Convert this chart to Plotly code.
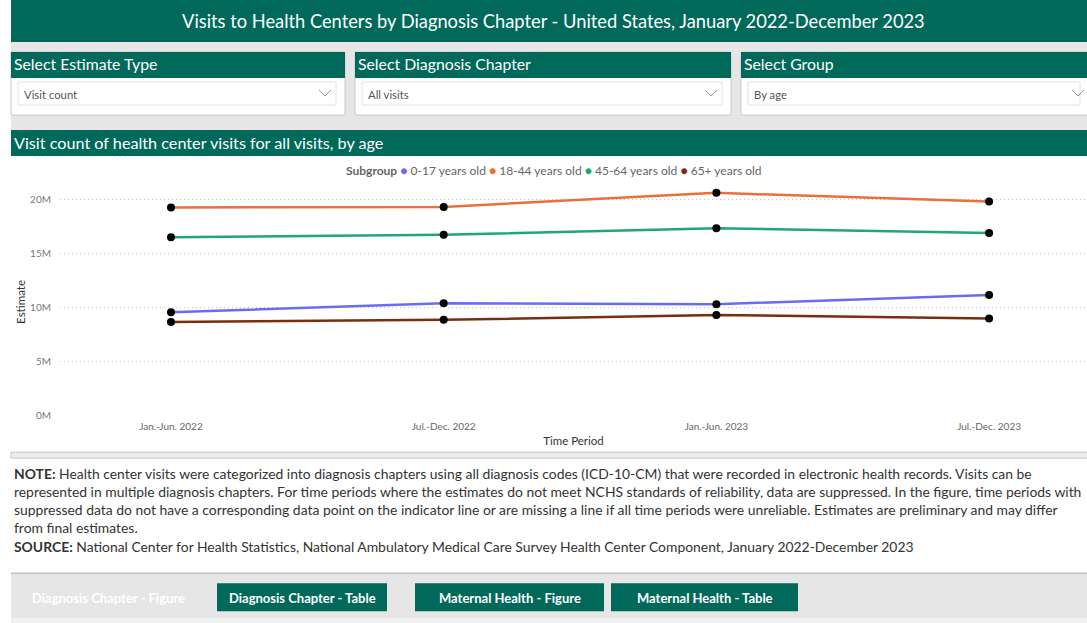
import plotly.graph_objects as go

W, H = 1087, 623
# The photographed page comes out slightly squeezed vertically; stretch layout
# coordinates by this factor so that positions land where the reference has them.
K = 0.99

periods = ["Jan.-Jun. 2022", "Jul.-Dec. 2022", "Jan.-Jun. 2023", "Jul.-Dec. 2023"]
age_0_17 = [9.60e6, 10.43e6, 10.34e6, 11.18e6]
age_18_44 = [19.29e6, 19.35e6, 20.65e6, 19.84e6]
age_45_64 = [16.55e6, 16.76e6, 17.38e6, 16.94e6]
age_65_plus = [8.70e6, 8.89e6, 9.35e6, 9.01e6]

series_names = ["0-17 years old", "18-44 years old", "45-64 years old", "65+ years old"]
series_colors = ["#6B6BF2", "#E8703A", "#1FA874", "#7A2E10"]
series_values = [age_0_17, age_18_44, age_45_64, age_65_plus]

ytick_vals = [0, 5e6, 10e6, 15e6, 20e6]
ytick_text = ["0M", "5M", "10M", "15M", "20M"]

GREEN = "#00695A"
GRAY = "#E6E6E6"
FONT = "Segoe UI, Lato, sans-serif"


def px(x):
    return x / W


def py(y):
    return 1 - (y / K) / H


shapes = []
annotations = []


def rect(x0, y0, x1, y1, fill, line=None, lw=1):
    shapes.append(dict(type="rect", xref="paper", yref="paper",
                       x0=px(x0), x1=px(x1), y0=py(y1), y1=py(y0),
                       fillcolor=fill, line=dict(color=line or fill, width=lw if line else 0),
                       layer="below"))


def text(x, y, s, size, color, xanchor="left", bold=False, yanchor="middle"):
    annotations.append(dict(xref="paper", yref="paper", x=px(x), y=py(y),
                            text=(f"<b>{s}</b>" if bold else s), showarrow=False,
                            xanchor=xanchor, yanchor=yanchor,
                            font=dict(family=FONT, size=size, color=color)))


def chevron(cx, cy):
    p = f"M {px(cx-6)},{py(cy-3)} L {px(cx)},{py(cy+3)} L {px(cx+6)},{py(cy-3)}"
    shapes.append(dict(type="path", xref="paper", yref="paper", path=p,
                       line=dict(color="#9A9A9A", width=1)))


# Title bar
rect(11, -2, W + 2, 42, GREEN)
text(553, 21, "Visits to Health Centers by Diagnosis Chapter - United States, January 2022-December 2023", 18.3, "white", "center")

# Gray filter band
rect(11, 42, W + 2, 130, GRAY)

panels = [(11, 345, "Select Estimate Type", "Visit count"),
          (355, 731, "Select Diagnosis Chapter", "All visits"),
          (741, W + 2, "Select Group", "By age")]
for x0, x1, head, val in panels:
    rect(x0, 52, x1, 115, "white", "#C8C8C8", 1)
    rect(x0, 52, x1, 78, GREEN)
    text(x0 + 1, 63.5, head, 15.8, "white")
    rect(x0 + 7, 82, min(x1 - 9, W + 2), 105, "white", "#E2E2E2", 1)
    text(x0 + 11, 94.5, val, 11.3, "#555555")
    chevron(min(x1, W) - 20 + (11 if x1 > W else 0), 93)

# Chart header
rect(11, 130, W + 2, 156, GREEN)
text(12, 142.5, "Visit count of health center visits for all visits, by age", 16.2, "white")

# Legend (text bullets in series colours)
legend_parts = ["<b>Subgroup</b>"] + [
    f"<span style='color:{c}'>●</span> {n}" for n, c in zip(series_names, series_colors)
]
annotations.append(dict(xref="paper", yref="paper", x=px(344), y=py(170),
                        text=" ".join(legend_parts), showarrow=False,
                        xanchor="left", yanchor="middle",
                        font=dict(family=FONT, size=12, color="#666666")))

# Separator
rect(11, 452, W + 2, 458, "#EDEDED", "#C4C4C4", 1)

# Note text
note_lines = [
    "<b>NOTE:</b> Health center visits were categorized into diagnosis chapters using all diagnosis codes (ICD-10-CM) that were recorded in electronic health records. Visits can be",
    "represented in multiple diagnosis chapters. For time periods where the estimates do not meet NCHS standards of reliability, data are suppressed. In the figure, time periods with",
    "suppressed data do not have a corresponding data point on the indicator line or are missing a line if all time periods were unreliable. Estimates are preliminary and may differ",
    "from final estimates.",
    "<b>SOURCE:</b> National Center for Health Statistics, National Ambulatory Medical Care Survey Health Center Component, January 2022-December 2023",
]
for i, ln in enumerate(note_lines):
    text(12, 473 + i * 18.2, ln, 13.9, "#333333")

# Bottom nav bar
rect(11, 573, W + 2, 618, GRAY)
shapes.append(dict(type="line", xref="paper", yref="paper", x0=px(11), x1=1,
                   y0=py(573), y1=py(573), line=dict(color="#C4C4C4", width=1.5)))
rect(11, 618, W + 2, H + 10, "#F2F2F2")
text(108, 598, "Diagnosis Chapter - Figure", 13, "white", "center", bold=True)
buttons = [(217, 387, "Diagnosis Chapter - Table"),
           (415, 604, "Maternal Health - Figure"),
           (611, 798, "Maternal Health - Table")]
for x0, x1, lbl in buttons:
    rect(x0, 583, x1, 611, GREEN)
    text((x0 + x1) / 2, 597.5, lbl, 13, "white", "center", bold=True)

fig = go.Figure()
for name, color, vals in zip(series_names, series_colors, series_values):
    fig.add_trace(go.Scatter(x=periods, y=vals, mode="lines", name=name,
                             line=dict(color=color, width=2.5), showlegend=False,
                             hoverinfo="skip"))
    fig.add_trace(go.Scatter(x=periods, y=vals, mode="markers", name=name,
                             marker=dict(color="black", size=8), showlegend=False))

y_bottom_px, y_top_px = 415.7, 188
y_max = 20e6 * (y_bottom_px - y_top_px) / (y_bottom_px - 199.8)

fig.update_layout(
    width=W, height=H,
    margin=dict(l=0, r=0, t=0, b=0),
    paper_bgcolor="white", plot_bgcolor="rgba(0,0,0,0)",
    shapes=shapes, annotations=annotations,
    showlegend=False,
    xaxis=dict(domain=[px(60), 1], range=[-0.407, 3.359], showgrid=False, zeroline=False,
               showline=False, ticks="", ticklabelstandoff=3,
               tickfont=dict(family=FONT, size=10, color="#666666"),
               title=dict(text="Time Period", font=dict(family=FONT, size=11.5, color="#333333"), standoff=6)),
    yaxis=dict(domain=[py(y_bottom_px), py(y_top_px)], range=[0, y_max],
               tickvals=ytick_vals, ticktext=ytick_text, showgrid=True,
               gridcolor="#C4C4C4", griddash="1px,3px", gridwidth=1, zeroline=False,
               showline=False, ticks="", ticklabelstandoff=8,
               tickfont=dict(family=FONT, size=10, color="#777777"),
               title=dict(text="Estimate", font=dict(family=FONT, size=11.5, color="#333333"), standoff=2)),
)

# Remove the browser's default 8px body margin so the figure fills the window.
fig.write_html("out.html", config={"displayModeBar": False},
               post_script="document.body.style.margin='0';")
